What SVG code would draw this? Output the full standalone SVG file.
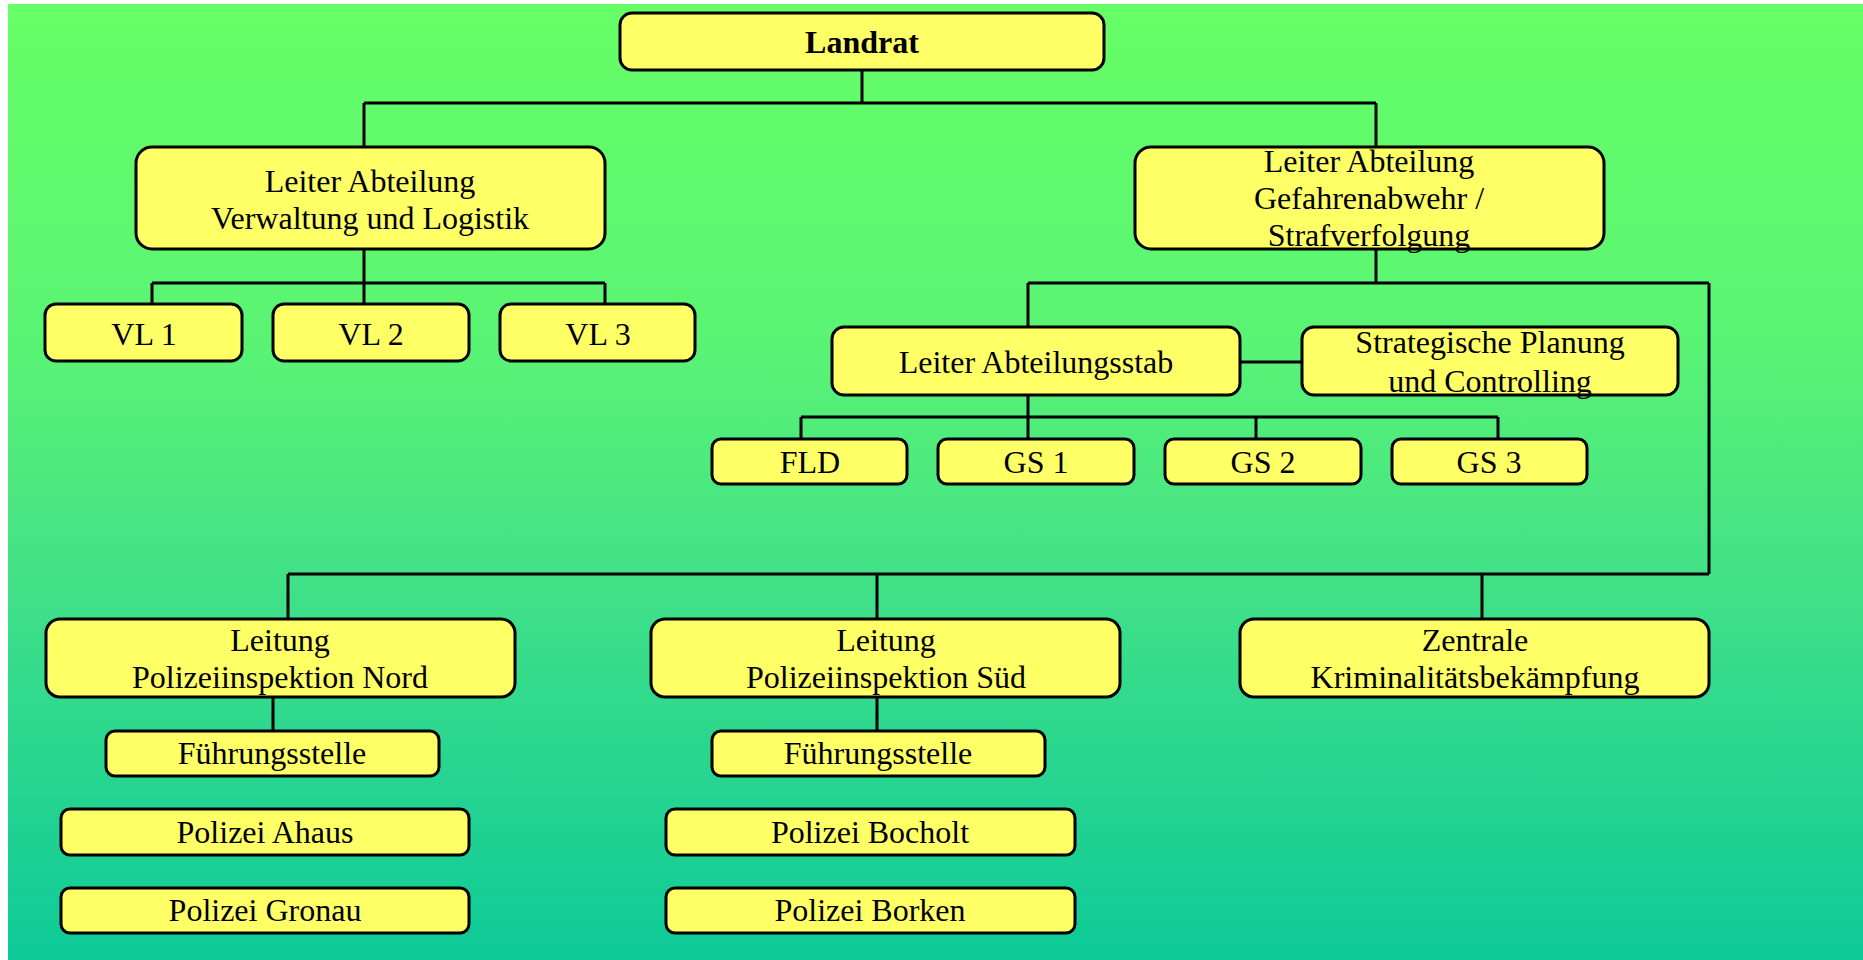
<svg xmlns="http://www.w3.org/2000/svg" width="1863" height="960" viewBox="0 0 1863 960">
<defs>
<linearGradient id="bg" x1="0" y1="0" x2="0" y2="1">
<stop offset="0" stop-color="#66FF66"/>
<stop offset="0.35" stop-color="#5AF474"/>
<stop offset="0.6" stop-color="#42E187"/>
<stop offset="1" stop-color="#0DCA98"/>
</linearGradient>
<style>
.box{fill:#FFFF66;stroke:#000;stroke-width:3}
.t{font-family:"Liberation Serif","Times New Roman",serif;font-size:32px;fill:#000;text-anchor:middle}
.b{font-weight:bold;font-size:32px}
.c{fill:none;stroke:#000;stroke-width:3}
</style>
</defs>
<rect width="1863" height="960" fill="#FFFFFF"/>
<rect x="8" y="4" width="1855" height="956" fill="url(#bg)"/>
<g id="connectors" class="c">
<path d="M862,70 V103 M364,103 H1376 M364,103 V147 M1376,103 V147"/>
<path d="M364,249 V283 M152,283 H605 M152,283 V304 M364,283 V304 M605,283 V304"/>
<path d="M1376,249 V283 M1028,283 H1709 M1028,283 V327 M1709,283 V574"/>
<path d="M1240,362 H1302"/>
<path d="M1028,395 V417 M801,417 H1498 M801,417 V439 M1028,417 V439 M1256,417 V439 M1498,417 V439"/>
<path d="M288,574 H1709 M288,574 V619 M877,574 V619 M1482,574 V619"/>
<path d="M273,697 V731 M877,697 V731"/>
</g>
<g id="landrat"><rect class="box" x="620" y="13" width="484" height="57" rx="12"/><text class="t b" x="862" y="53">Landrat</text></g>
<g id="abt-vl"><rect class="box" x="136" y="147" width="469" height="102" rx="16"/><text class="t" x="370" y="192">Leiter Abteilung</text><text class="t" x="370" y="229">Verwaltung und Logistik</text></g>
<g id="abt-gs"><rect class="box" x="1135" y="147" width="469" height="102" rx="16"/><text class="t" x="1369" y="172">Leiter Abteilung</text><text class="t" x="1369" y="209">Gefahrenabwehr /</text><text class="t" x="1369" y="246">Strafverfolgung</text></g>
<g id="vl1"><rect class="box" x="45" y="304" width="197" height="57" rx="11"/><text class="t" x="144" y="345">VL 1</text></g>
<g id="vl2"><rect class="box" x="273" y="304" width="196" height="57" rx="11"/><text class="t" x="371" y="345">VL 2</text></g>
<g id="vl3"><rect class="box" x="500" y="304" width="195" height="57" rx="11"/><text class="t" x="598" y="345">VL 3</text></g>
<g id="stab"><rect class="box" x="832" y="327" width="408" height="68" rx="12"/><text class="t" x="1036" y="373">Leiter Abteilungsstab</text></g>
<g id="strat"><rect class="box" x="1302" y="327" width="376" height="68" rx="12"/><text class="t" x="1490" y="353">Strategische Planung</text><text class="t" x="1490" y="392">und Controlling</text></g>
<g id="fld"><rect class="box" x="712" y="439" width="195" height="45" rx="9"/><text class="t" x="810" y="473">FLD</text></g>
<g id="gs1"><rect class="box" x="938" y="439" width="196" height="45" rx="9"/><text class="t" x="1036" y="473">GS 1</text></g>
<g id="gs2"><rect class="box" x="1165" y="439" width="196" height="45" rx="9"/><text class="t" x="1263" y="473">GS 2</text></g>
<g id="gs3"><rect class="box" x="1392" y="439" width="195" height="45" rx="9"/><text class="t" x="1489" y="473">GS 3</text></g>
<g id="pi-nord"><rect class="box" x="46" y="619" width="469" height="78" rx="14"/><text class="t" x="280" y="651">Leitung</text><text class="t" x="280" y="688">Polizeiinspektion Nord</text></g>
<g id="pi-sued"><rect class="box" x="651" y="619" width="469" height="78" rx="14"/><text class="t" x="886" y="651">Leitung</text><text class="t" x="886" y="688">Polizeiinspektion Süd</text></g>
<g id="zkb"><rect class="box" x="1240" y="619" width="469" height="78" rx="14"/><text class="t" x="1475" y="651">Zentrale</text><text class="t" x="1475" y="688">Kriminalitätsbekämpfung</text></g>
<g id="fst-nord"><rect class="box" x="106" y="731" width="333" height="45" rx="9"/><text class="t" x="272" y="764">Führungsstelle</text></g>
<g id="fst-sued"><rect class="box" x="712" y="731" width="333" height="45" rx="9"/><text class="t" x="878" y="764">Führungsstelle</text></g>
<g id="ahaus"><rect class="box" x="61" y="809" width="408" height="46" rx="9"/><text class="t" x="265" y="843">Polizei Ahaus</text></g>
<g id="gronau"><rect class="box" x="61" y="888" width="408" height="45" rx="9"/><text class="t" x="265" y="921">Polizei Gronau</text></g>
<g id="bocholt"><rect class="box" x="666" y="809" width="409" height="46" rx="9"/><text class="t" x="870" y="843">Polizei Bocholt</text></g>
<g id="borken"><rect class="box" x="666" y="888" width="409" height="45" rx="9"/><text class="t" x="870" y="921">Polizei Borken</text></g>
</svg>
